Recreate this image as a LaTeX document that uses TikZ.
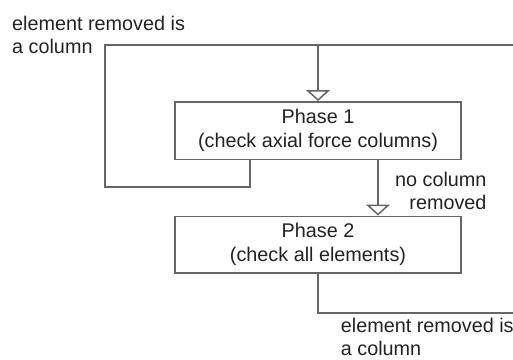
\documentclass[tikz,border=0pt]{standalone}
\usepackage{fontspec}
\setmainfont{Liberation Sans}
\usetikzlibrary{arrows.meta}
\definecolor{linegray}{HTML}{666666}
\definecolor{textgray}{HTML}{222222}
\begin{document}
\begin{tikzpicture}[x=1pt,y=-1pt,
  every node/.style={text=textgray, font=\fontsize{19.8}{23.5}\selectfont, inner sep=0pt},
  phasebox/.style={draw=linegray, line width=1.5pt, minimum width=286pt, align=center, fill=white},
  conn/.style={draw=linegray, line width=1.5pt},
  openarrow/.style={-{Triangle[width=24pt, length=11pt, fill=white]}},
  lbl/.style={align=left},
  lblr/.style={align=right}
]
\useasboundingbox (0,0) rectangle (513,359);
\node[phasebox, minimum height=57.5pt] (p1) at (318,130.5) {Phase 1\\(check axial force columns)};
\node[phasebox, minimum height=56.5pt] (p2) at (318,244.5) {Phase 2\\(check all elements)};
\coordinate (tl) at (105,45);
\coordinate (tr) at (514,45);
\coordinate (lb) at (105,187);
\coordinate (br) at (514,313);
\draw[conn] (p2.south) -- (p2.south |- br) -- (br);
\draw[conn] ([xshift=-68pt]p1.south) |- (lb) -- (tl) -- (tr);
\draw[conn, openarrow] (p1.north |- tl) -- (p1.north);
\draw[conn, openarrow] ([xshift=60pt]p1.south) -- ([xshift=60pt]p2.north);
\node[lbl, anchor=west] (t1) at (12,35) {element removed is\\a column};
\node[lbl, anchor=west] (t2) at (340.7,337) {element removed is\\a column};
\node[lblr, anchor=east] (t3) at (486.7,191) {no column\\removed};
\end{tikzpicture}
\end{document}
